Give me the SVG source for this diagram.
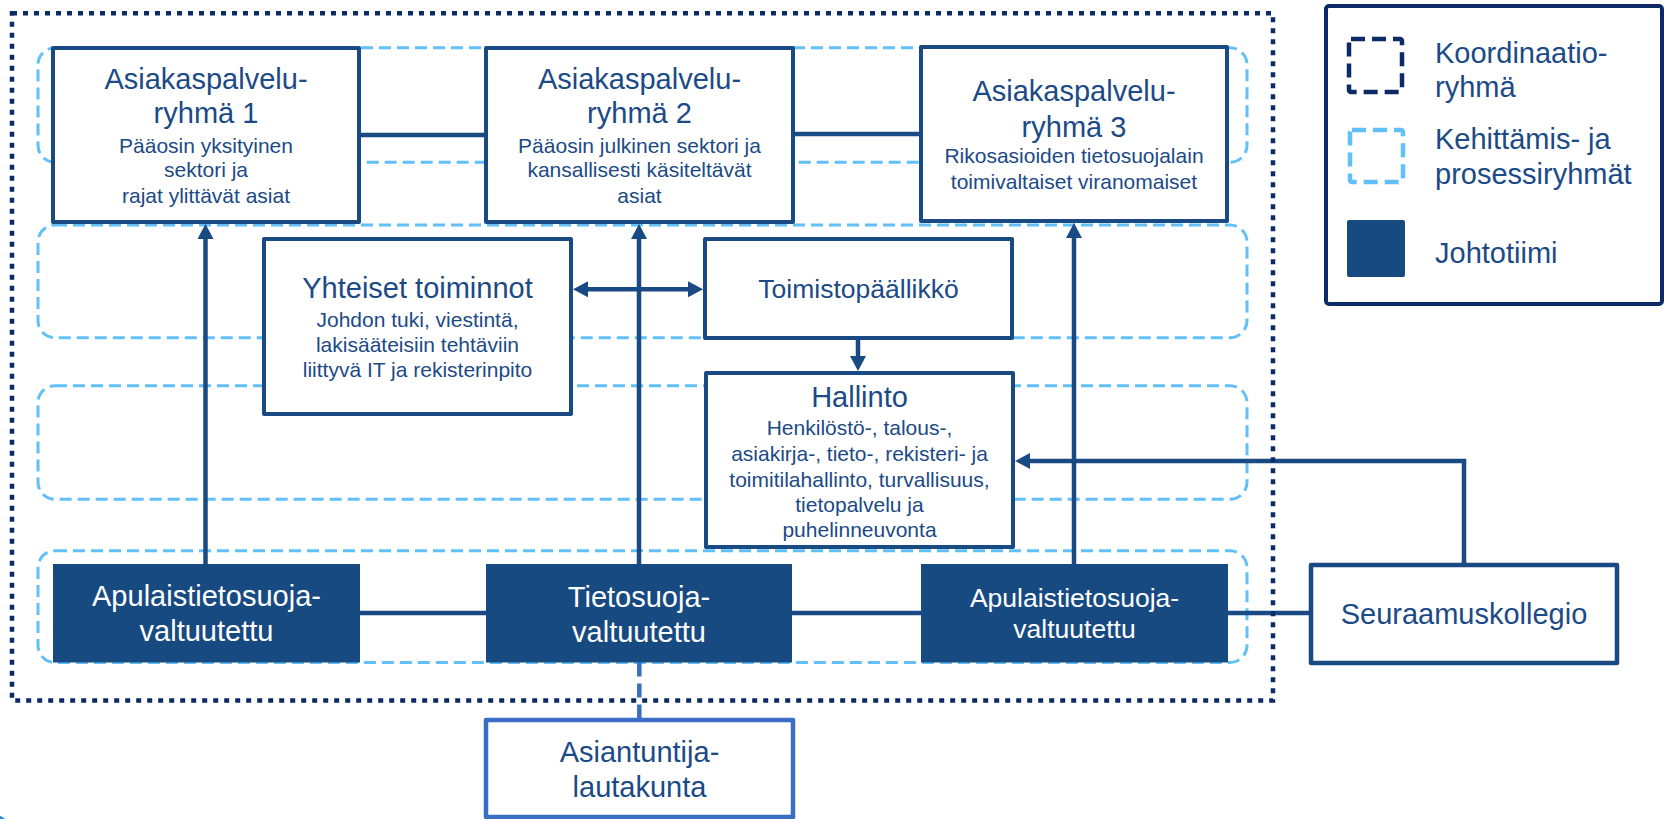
<svg xmlns="http://www.w3.org/2000/svg" width="1667" height="819" viewBox="0 0 1667 819">
<style>
text{font-family:"Liberation Sans",Arial,Helvetica,sans-serif;text-anchor:middle;fill:#1b4a86}
.t{font-size:29px}
.s{font-size:21px}
.w{fill:#ffffff}
.lg{text-anchor:start;font-size:29px}
.box{fill:#ffffff;stroke:#1a4a84;stroke-width:4;stroke-linejoin:round}
.lead{fill:#184a82}
.row{fill:none;stroke:#62c0f8;stroke-width:3;stroke-dasharray:12 6}
.con{fill:none;stroke:#1a4a84;stroke-width:4.5}
.outer{fill:none;stroke:#0b2a66;stroke-width:4.5;stroke-dasharray:5 6}
</style>
<defs>
<marker id="ah" viewBox="0 0 15 16" refX="2" refY="8" markerWidth="15" markerHeight="16" markerUnits="userSpaceOnUse" orient="auto-start-reverse">
<path d="M0,0 L15,8 L0,16 z" fill="#1a4a84"/>
</marker>
</defs>
<rect width="1667" height="819" fill="#ffffff"/>
<g id="bands">
<rect class="row" x="38" y="47.7" width="1209" height="114.6" rx="17"/>
<rect class="row" x="38" y="225" width="1209" height="112.7" rx="17"/>
<rect class="row" x="38" y="385.7" width="1209" height="113.6" rx="17"/>
<rect class="row" x="38" y="550.7" width="1209" height="111.8" rx="17"/>
</g>
<g id="connectors">
<line class="con" x1="359" y1="135" x2="486" y2="135"/>
<line class="con" x1="793" y1="134" x2="921" y2="134"/>
<line class="con" x1="360" y1="613" x2="486" y2="613"/>
<line class="con" x1="792" y1="613" x2="921" y2="613"/>
<line class="con" x1="1228" y1="613" x2="1311" y2="613"/>
<line class="con" x1="205.5" y1="564" x2="205.5" y2="237" marker-end="url(#ah)"/>
<line class="con" x1="639" y1="564" x2="639" y2="237" marker-end="url(#ah)"/>
<line class="con" x1="1074" y1="564" x2="1074" y2="236" marker-end="url(#ah)"/>
<line class="con" x1="586" y1="289.3" x2="690" y2="289.3" marker-start="url(#ah)" marker-end="url(#ah)"/>
<line class="con" x1="858" y1="338" x2="858" y2="358" marker-end="url(#ah)"/>
<polyline class="con" points="1464,565 1464,461 1028,461" marker-end="url(#ah)"/>
<line x1="639.3" y1="662.5" x2="639.3" y2="720" stroke="#3a6ec4" stroke-width="4.5" stroke-dasharray="14 7"/>
</g>
<g id="asiakaspalveluryhma1">
<rect class="box" x="53" y="48" width="306" height="174"/>
<text class="t" x="206" y="89.3">Asiakaspalvelu-</text>
<text class="t" x="206" y="123.3">ryhmä 1</text>
<text class="s" x="206" y="153.3">Pääosin yksityinen</text>
<text class="s" x="206" y="177.3">sektori ja</text>
<text class="s" x="206" y="203">rajat ylittävät asiat</text>
</g>
<g id="asiakaspalveluryhma2">
<rect class="box" x="486" y="48" width="307" height="174"/>
<text class="t" x="639.5" y="89.3">Asiakaspalvelu-</text>
<text class="t" x="639.5" y="123.3">ryhmä 2</text>
<text class="s" x="639.5" y="153.3">Pääosin julkinen sektori ja</text>
<text class="s" x="639.5" y="177.3">kansallisesti käsiteltävät</text>
<text class="s" x="639.5" y="203">asiat</text>
</g>
<g id="asiakaspalveluryhma3">
<rect class="box" x="921" y="47" width="306" height="174"/>
<text class="t" x="1074" y="100.7">Asiakaspalvelu-</text>
<text class="t" x="1074" y="137.3">ryhmä 3</text>
<text class="s" x="1074" y="163.3">Rikosasioiden tietosuojalain</text>
<text class="s" x="1074" y="189.3">toimivaltaiset viranomaiset</text>
</g>
<g id="yhteiset">
<rect class="box" x="264" y="239" width="307" height="175"/>
<text class="t" x="417.5" y="298.3">Yhteiset toiminnot</text>
<text class="s" x="417.5" y="326.7">Johdon tuki, viestintä,</text>
<text class="s" x="417.5" y="351.7">lakisääteisiin tehtäviin</text>
<text class="s" x="417.5" y="376.7">liittyvä IT ja rekisterinpito</text>
</g>
<g id="toimistopaallikko">
<rect class="box" x="705" y="239" width="307" height="99"/>
<text x="858.5" y="298.3" style="font-size:26.5px">Toimistopäällikkö</text>
</g>
<g id="hallinto">
<rect class="box" x="706" y="373" width="307" height="174"/>
<text class="t" x="859.5" y="407.3">Hallinto</text>
<text class="s" x="859.5" y="435">Henkilöstö-, talous-,</text>
<text class="s" x="859.5" y="460.7">asiakirja-, tieto-, rekisteri- ja</text>
<text class="s" x="859.5" y="486.7">toimitilahallinto, turvallisuus,</text>
<text class="s" x="859.5" y="511.7">tietopalvelu ja</text>
<text class="s" x="859.5" y="536.7">puhelinneuvonta</text>
</g>
<g id="apulais1">
<rect class="lead" x="53" y="564" width="307" height="98.5"/>
<text class="t w" x="206.5" y="606">Apulaistietosuoja-</text>
<text class="t w" x="206.5" y="641">valtuutettu</text>
</g>
<g id="tietosuojavaltuutettu">
<rect class="lead" x="486" y="564" width="306" height="98.5"/>
<text class="t w" x="639" y="606.7">Tietosuoja-</text>
<text class="t w" x="639" y="641.7">valtuutettu</text>
</g>
<g id="apulais3">
<rect class="lead" x="921" y="564" width="307" height="98.5"/>
<text class="w" x="1074.5" y="607.3" style="font-size:26.5px">Apulaistietosuoja-</text>
<text class="w" x="1074.5" y="638.3" style="font-size:26.5px">valtuutettu</text>
</g>
<g id="seuraamuskollegio">
<rect class="box" x="1311" y="565" width="306" height="98" style="stroke-width:4.5"/>
<text class="t" x="1464" y="624">Seuraamuskollegio</text>
</g>
<g id="asiantuntijalautakunta">
<rect class="box" x="486" y="720" width="307" height="97" style="stroke:#3a6ec4;stroke-width:4.5"/>
<text class="t" x="639.5" y="761.7">Asiantuntija-</text>
<text class="t" x="639.5" y="796.7">lautakunta</text>
</g>
<g id="koordinaatioryhma">
<rect class="outer" x="12" y="13.3" width="1261" height="687.2"/>
</g>
<g id="legend">
<rect x="1326" y="6" width="336" height="298" rx="3" fill="#ffffff" stroke="#0b2a66" stroke-width="4"/>
<rect x="1349" y="39" width="53" height="53" rx="2" fill="none" stroke="#0b2a66" stroke-width="4.5" stroke-dasharray="14 7"/>
<rect x="1350" y="130" width="53" height="52" rx="2" fill="none" stroke="#62c0f8" stroke-width="4.5" stroke-dasharray="14 7"/>
<rect x="1347" y="220" width="58" height="57" rx="2" fill="#184a82"/>
<text class="lg" x="1435" y="63.3">Koordinaatio-</text>
<text class="lg" x="1435" y="96.7">ryhmä</text>
<text class="lg" x="1435" y="149">Kehittämis- ja</text>
<text class="lg" x="1435" y="184">prosessiryhmät</text>
<text class="lg" x="1435" y="263.3">Johtotiimi</text>
</g>
<circle cx="-20" cy="855" r="44" fill="#1a8fe0"/>
</svg>
